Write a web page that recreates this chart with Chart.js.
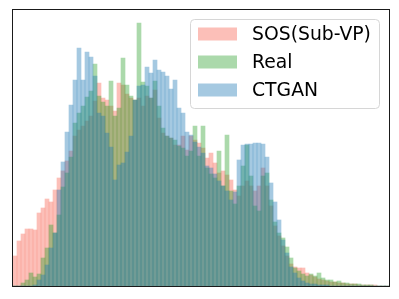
<!DOCTYPE html>
<html>
<head>
<meta charset="utf-8">
<script src="https://cdn.jsdelivr.net/npm/chart.js@4/dist/chart.umd.min.js"></script>
<style>
  html, body { margin: 0; padding: 0; background: #fff; }
  #wrap { width: 399px; height: 299px; }
</style>
</head>
<body>
<div id="wrap"><canvas id="c" width="399" height="299"></canvas></div>
<script>
const seriesNames = ["SOS(Sub-VP)", "Real", "CTGAN"];

const sosCounts = [30,45,52,57,57,56,73,78,87,84,96,108,115,125,135,150,156,160,165,170,185,203,188,186,180,175,203,201,192,188,186,188,180,190,188,196,168,153,150,148,141,141,150,136,150,146,143,138,128,133,123,113,115,111,106,96,90,100,105,100,95,100,118,100,80,60,50,40,30,22,19,18,18,13,11,9,7,6,5,4,4,3,3,2,2,2,1,1,1,1,1,0,0,0];

const realCounts = [0,0,3,6,13,9,12,28,38,61,53,71,99,113,129,163,173,180,189,195,222,190,184,180,205,170,178,228,201,190,186,263,204,200,188,205,180,158,150,148,146,140,138,130,135,160,130,160,118,112,108,135,100,151,95,82,100,120,141,110,80,75,110,113,86,64,53,48,39,28,18,15,12,10,12,10,13,8,6,6,4,5,3,3,2,2,2,1,1,1,0,0,0,0];

const ctganCounts = [0,0,0,0,0,1,6,11,21,38,53,96,124,154,181,206,238,206,234,229,210,173,170,153,139,106,121,123,134,150,186,200,201,219,213,226,216,214,210,197,206,178,173,154,151,144,139,133,120,118,112,105,100,95,86,94,126,141,142,142,143,143,142,129,103,84,66,46,33,19,13,8,5,3,2,2,1,1,1,0,0,0,0,0,0,0,0,0,0,0,0,0,0,0];

const binLabels = sosCounts.map((_, i) => String(i));

const fills = ["rgba(250,128,114,0.5)", "rgba(44,160,44,0.4)", "rgba(31,119,180,0.4)"];

const frameAndLegend = {
  id: "frameAndLegend",
  afterDraw(chart) {
    const ctx = chart.ctx;
    const a = chart.chartArea;
    ctx.save();
    ctx.strokeStyle = "#1a1a1a";
    ctx.lineWidth = 1;
    ctx.strokeRect(a.left - 0.5, a.top - 0.5, a.right - a.left + 1, a.bottom - a.top + 1);
    const bx = 190.5, by = 19.5, bw = 189, bh = 89, r = 4;
    ctx.beginPath();
    ctx.moveTo(bx + r, by);
    ctx.lineTo(bx + bw - r, by);
    ctx.quadraticCurveTo(bx + bw, by, bx + bw, by + r);
    ctx.lineTo(bx + bw, by + bh - r);
    ctx.quadraticCurveTo(bx + bw, by + bh, bx + bw - r, by + bh);
    ctx.lineTo(bx + r, by + bh);
    ctx.quadraticCurveTo(bx, by + bh, bx, by + bh - r);
    ctx.lineTo(bx, by + r);
    ctx.quadraticCurveTo(bx, by, bx + r, by);
    ctx.closePath();
    ctx.fillStyle = "rgba(255,255,255,0.8)";
    ctx.fill();
    ctx.strokeStyle = "#d6d6d6";
    ctx.stroke();
    ctx.font = "18.8px 'DejaVu Sans'";
    ctx.textBaseline = "middle";
    ctx.textAlign = "left";
    [0, 1, 2].forEach((i) => {
      const cy = 34 + i * 28;
      ctx.fillStyle = fills[i];
      ctx.fillRect(198, cy - 6.5, 39, 13);
      ctx.fillStyle = "#000";
      ctx.fillText(seriesNames[i], 252, cy + 1);
    });
    ctx.restore();
  }
};

new Chart(document.getElementById("c"), {
  type: "bar",
  data: {
    labels: binLabels,
    datasets: [
      { label: seriesNames[0], data: sosCounts, backgroundColor: fills[0], order: 3 },
      { label: seriesNames[1], data: realCounts, backgroundColor: fills[1], order: 2 },
      { label: seriesNames[2], data: ctganCounts, backgroundColor: fills[2], order: 1 }
    ]
  },
  options: {
    responsive: false,
    animation: false,
    devicePixelRatio: 1,
    layout: { padding: { left: 13, top: 10, right: 10, bottom: 13 } },
    datasets: {
      bar: { grouped: false, categoryPercentage: 1, barPercentage: 1, borderWidth: 0, borderSkipped: false }
    },
    scales: {
      x: { display: false },
      y: { display: false, min: 0, max: 276 }
    },
    plugins: {
      legend: { display: false },
      tooltip: { enabled: false }
    }
  },
  plugins: [frameAndLegend]
});
</script>
</body>
</html>
